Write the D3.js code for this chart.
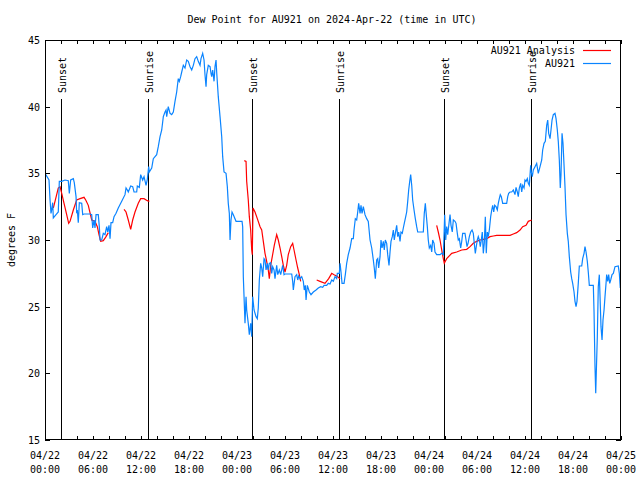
<!DOCTYPE html>
<html><head><meta charset="utf-8">
<script src="https://cdn.jsdelivr.net/npm/d3@7"></script>
<style>
body{margin:0;background:#fff;}
text{font-family:"DejaVu Sans Mono","Liberation Mono",monospace;font-size:10px;fill:#000;}
</style></head>
<body><svg id="c" width="640" height="480"></svg>
<script>
const title = "Dew Point for AU921 on 2024-Apr-22 (time in UTC)";
const yLabel = "degrees F";
const startTime = "2024-04-22T00:00:00Z";
const endTime = "2024-04-25T00:00:00Z";
const yTicks = [15, 20, 25, 30, 35, 40, 45];
const seriesNames = ["AU921 Analysis", "AU921"];
// sun events: hours after start
const sunEvents = [["Sunset",1.96],["Sunrise",12.9],["Sunset",25.9],["Sunrise",36.8],["Sunset",49.9],["Sunrise",60.8]];
// observed dew point [hours after start, deg F]
const obsHours = [0,0.5,0.63,0.75,0.83,0.96,1.04,1.38,1.66,1.79,2.09,2.5,2.91,3.04,3.21,3.54,3.66,3.88,3.96,4.04,4.16,4.29,4.59,4.71,4.88,5.63,5.84,5.96,6.13,6.25,6.38,6.66,6.79,6.88,7.09,7.29,7.5,7.71,7.84,8.0,8.13,8.25,8.46,8.63,8.88,9.16,9.59,10.0,10.13,10.29,10.41,10.71,10.96,11.13,11.46,11.54,11.79,11.96,12.21,12.38,12.63,12.79,12.96,13.04,13.34,13.54,13.96,14.16,14.38,14.59,14.79,15.0,15.13,15.21,15.41,15.63,15.84,16.04,16.25,16.46,16.66,16.79,16.96,17.09,17.29,17.5,17.71,17.91,18.13,18.34,18.54,18.75,18.96,19.16,19.38,19.5,19.71,19.88,20.0,20.13,20.21,20.41,20.63,20.75,20.84,20.96,21.13,21.25,21.38,21.46,21.66,21.88,22.09,22.21,22.38,22.63,22.79,22.91,23.04,23.13,23.25,23.38,23.54,23.88,24.63,24.71,24.79,25.0,25.13,25.21,25.41,25.54,25.71,25.84,25.96,26.13,26.38,26.54,26.66,26.79,26.96,27.09,27.21,27.38,27.5,27.63,27.79,27.91,28.04,28.21,28.34,28.46,28.63,28.75,28.96,29.09,29.29,29.46,29.71,29.88,30.0,30.84,30.96,31.04,31.25,31.46,31.59,31.71,31.88,32.09,32.29,32.41,32.54,32.63,32.79,33.04,33.25,33.54,33.88,34.16,34.46,34.71,34.88,35.21,35.41,35.63,35.84,36.04,36.25,36.46,36.54,36.79,36.88,37.0,37.13,37.38,37.54,37.71,37.91,38.13,38.34,38.54,38.63,38.79,38.96,39.09,39.21,39.38,39.5,39.63,39.79,40.0,40.21,40.41,40.63,40.84,41.04,41.16,41.29,41.46,41.59,41.71,41.88,42.0,42.13,42.29,42.41,42.54,42.71,42.84,43.0,43.13,43.25,43.41,43.54,43.66,43.79,43.96,44.09,44.21,44.38,44.5,44.66,44.79,44.91,45.09,45.21,45.34,45.46,45.59,45.71,45.84,45.96,46.13,46.29,46.46,46.59,47.29,47.41,47.54,47.63,47.79,47.91,48.04,48.21,48.34,48.46,48.63,48.75,48.96,49.16,49.38,49.59,49.79,49.88,49.96,50.09,50.21,50.34,50.5,50.63,50.75,50.91,51.04,51.25,51.38,51.54,51.66,51.79,51.96,52.09,52.21,52.5,52.63,52.75,52.88,53.04,53.21,53.38,53.54,53.66,53.79,53.91,54.04,54.16,54.29,54.41,54.54,54.66,54.79,54.91,55.04,55.16,55.29,55.41,55.54,55.71,55.84,55.96,56.09,56.21,56.38,56.54,56.66,56.79,56.91,57.04,57.21,57.71,57.84,57.96,58.13,58.34,58.54,58.75,58.88,59.04,59.16,59.29,59.46,59.59,59.71,59.88,60.0,60.13,60.29,60.41,60.54,60.71,60.79,60.91,61.04,61.25,61.46,61.66,61.88,62.09,62.21,62.38,62.54,62.71,62.84,62.96,63.13,63.25,63.38,63.54,63.75,63.88,64.04,64.16,64.29,64.41,64.5,64.63,64.75,64.88,65.0,65.13,65.29,65.41,65.54,65.71,65.84,65.96,66.13,66.25,66.38,66.5,66.66,66.79,67.09,67.21,67.38,67.5,67.63,67.79,67.91,68.04,68.54,68.63,68.75,68.84,68.91,69.04,69.16,69.29,69.38,69.5,69.63,69.75,69.88,70.0,70.13,70.21,70.34,70.46,70.59,70.71,70.88,71.04,71.25,71.66,71.79,71.91];
const obsValues = [35.0,34.5,33.0,32.0,32.25,32.8,31.65,31.9,32.1,34.4,34.4,34.5,34.45,33.5,34.5,34.6,34.3,33.25,32.0,32.25,31.3,32.8,32.75,31.9,31.95,31.95,31.9,30.9,31.5,30.9,31.9,31.9,31.0,30.0,30.0,30.5,30.4,31.0,30.6,31.1,30.1,31.3,31.3,31.75,32.0,32.4,32.9,33.4,33.9,33.75,33.6,34.05,34.0,33.6,33.6,34.05,33.95,34.9,34.5,34.75,34.1,34.55,35.5,35.1,35.4,36.1,36.4,37.0,37.75,38.25,39.25,39.6,39.75,39.25,40.0,39.5,39.4,39.6,40.4,41.1,42.1,41.9,42.25,42.6,43.1,42.9,43.5,43.4,43.0,42.75,43.1,43.6,43.75,43.4,43.1,43.6,44.0,43.5,42.4,41.5,42.4,43.1,43.0,42.5,42.25,42.75,41.9,43.0,43.5,42.6,40.75,39.25,37.75,36.25,35.1,35.0,34.0,32.75,32.0,30.0,31.5,32.1,31.9,31.4,31.4,31.0,27.25,23.75,25.75,24.75,23.75,22.9,23.75,22.75,25.75,24.75,24.25,24.1,24.9,27.0,28.25,27.9,27.25,28.6,28.5,27.75,28.25,27.75,28.25,28.3,27.5,28.0,27.75,27.1,28.1,27.4,27.75,27.4,28.1,27.4,27.45,27.45,26.9,26.25,27.25,27.4,27.0,27.3,27.1,27.25,26.9,26.25,26.6,25.5,26.6,26.1,25.9,26.1,26.25,26.4,26.5,26.45,26.6,26.6,26.75,26.7,27.0,26.9,27.25,27.1,27.5,27.5,28.25,27.6,26.75,26.75,27.4,28.25,28.9,29.4,30.1,30.1,30.75,31.6,31.5,32.1,32.75,32.0,32.6,32.0,32.5,31.9,31.6,31.4,30.0,29.4,28.5,27.9,27.1,28.5,28.6,27.9,28.75,30.0,29.4,29.9,29.25,30.0,29.75,28.9,28.1,29.1,29.9,30.25,30.75,30.0,30.5,31.1,30.25,30.6,29.9,30.6,30.5,30.9,31.25,31.75,32.1,32.9,33.75,34.4,34.9,34.1,33.0,32.25,31.6,31.0,30.6,30.6,32.0,32.75,32.1,31.0,30.0,29.4,29.6,29.1,30.0,29.75,29.1,28.9,28.9,28.9,29.0,28.9,30.4,31.9,30.0,31.0,30.4,31.25,31.9,31.1,30.6,31.5,31.4,31.25,30.5,30.0,30.1,29.4,29.9,30.5,30.5,30.0,29.5,29.75,30.25,30.6,30.75,30.5,29.75,29.0,29.5,30.0,30.25,30.0,29.5,30.0,30.6,29.0,29.75,31.75,29.0,30.6,30.25,30.75,31.75,32.25,32.6,32.1,32.6,32.5,32.25,32.75,33.1,33.4,33.25,32.75,32.75,33.25,33.5,33.6,33.6,33.75,33.4,33.95,33.6,33.25,33.9,34.25,33.6,34.1,33.9,34.5,34.4,34.6,34.25,34.1,35.6,35.1,34.75,35.25,35.5,35.75,35.0,35.5,36.0,36.75,37.25,37.4,38.6,39.0,38.0,37.6,38.25,39.0,39.4,39.5,39.1,38.25,37.4,36.0,33.9,34.9,38.0,37.25,35.6,34.0,31.9,30.5,29.9,28.75,27.6,27.1,26.75,26.1,25.4,25.0,25.4,26.75,28.05,28.05,28.6,29.0,29.5,29.1,28.4,27.6,26.6,26.6,24.6,20.5,18.5,20.0,22.75,26.5,27.4,25.75,23.5,22.5,24.0,24.75,25.75,26.75,27.4,26.9,27.4,26.75,27.0,27.4,27.5,28.0,28.05,27.5,26.4];
// analysis dew point, null marks gaps
const anaHours = [1.04,1.25,1.66,1.88,2.09,2.38,2.71,2.96,3.13,3.54,3.96,4.38,4.88,5.09,5.41,5.84,6.25,6.54,6.75,6.96,7.29,7.63,7.91,8.5,
 9.88,10.13,10.41,10.71,10.96,11.25,11.66,11.96,12.38,12.79,13.04,13.5,
 24.91,25.13,25.21,25.41,25.54,25.71,25.84,25.91,26.0,26.25,26.54,26.88,27.09,27.29,27.5,27.71,27.91,28.04,28.21,28.41,28.66,28.96,29.16,29.38,29.59,29.79,30.0,30.21,30.41,30.71,30.96,31.13,31.38,31.59,31.79,31.96,32.5,
 33.96,34.38,35.0,35.46,35.84,36.13,36.46,36.88,37.5,
 48.96,49.16,49.38,49.59,49.79,49.91,50.21,50.84,51.46,52.09,52.71,53.13,53.54,53.96,54.38,54.79,55.21,55.63,56.04,56.46,57.71,58.13,58.54,58.96,59.38,59.71,60.13,60.41,60.84];
const anaValues = [32.4,32.9,33.9,34.0,33.5,32.75,31.9,31.25,31.4,32.25,33.0,33.1,33.2,33.0,32.6,31.5,31.4,31.0,30.4,29.9,29.95,30.25,30.55,null,
 32.3,32.1,31.5,30.8,31.5,32.1,32.75,33.1,33.1,32.95,32.9,null,
 35.95,35.9,34.4,33.0,31.75,30.75,29.25,28.9,32.4,32.1,31.6,31.0,30.75,29.9,29.0,28.4,27.75,27.1,28.1,28.75,29.6,30.4,30.0,29.4,28.75,28.1,27.6,28.1,28.9,29.5,29.75,29.25,28.5,27.9,27.4,26.9,null,
 27.0,26.9,26.75,27.1,27.5,27.4,27.3,27.1,null,
 31.1,30.6,30.0,29.25,28.6,28.25,28.6,29.0,29.1,29.25,29.3,29.5,29.75,29.9,30.0,30.05,30.1,30.25,30.3,30.35,30.35,30.35,30.45,30.55,30.75,31.0,31.1,31.4,31.5];

const colors = {analysis:"#ff0000", obs:"#0a84ff"};
const m = {l:45, r:621, t:40, b:440};
const t0 = new Date(startTime).getTime();
const toDate = h => new Date(t0 + h*3600e3);
const svg = d3.select("#c");
const x = d3.scaleUtc().domain([new Date(startTime), new Date(endTime)]).range([m.l, m.r]);
const y = d3.scaleLinear().domain([15,45]).range([m.b, m.t]);

// title
svg.append("text").attr("x",332).attr("y",23).attr("text-anchor","middle").text(title);
svg.append("text").attr("transform","translate(15,240) rotate(-90)").attr("text-anchor","middle").text(yLabel);

// axes
const fmtD = d3.utcFormat("%m/%d"), fmtT = d3.utcFormat("%H:%M");
const bottom = svg.append("g").attr("transform",`translate(0,${m.b})`)
 .call(d3.axisBottom(x).ticks(d3.utcHour.every(6)).tickSize(0).tickFormat(""));
bottom.select(".domain").remove();
const labTicks = x.ticks(d3.utcHour.every(6));
const lab = svg.append("g");
labTicks.forEach(d=>{
  const t = lab.append("text").attr("x",x(d)).attr("text-anchor","middle");
  t.append("tspan").attr("x",x(d)).attr("y",459).text(fmtD(d));
  t.append("tspan").attr("x",x(d)).attr("y",473).text(fmtT(d));
});
const minor = x.ticks(d3.utcHour.every(2));
const tk = svg.append("g").attr("stroke","#000").attr("stroke-width",1).attr("shape-rendering","crispEdges");
minor.forEach(d=>{
  const px = Math.round(x(d))+0.5;
  tk.append("line").attr("x1",px).attr("x2",px).attr("y1",m.b).attr("y2",m.b-4);
  tk.append("line").attr("x1",px).attr("x2",px).attr("y1",m.t).attr("y2",m.t+4);
});
yTicks.forEach(v=>{
  const py = Math.round(y(v))+0.5;
  tk.append("line").attr("x1",m.l).attr("x2",m.l+5).attr("y1",py).attr("y2",py);
  tk.append("line").attr("x1",m.r).attr("x2",m.r-5).attr("y1",py).attr("y2",py);
  svg.append("text").attr("x",40).attr("y",y(v)+4).attr("text-anchor","end").text(v);
});

// sun events
sunEvents.forEach(([name,h])=>{
  const px = Math.round(x(toDate(h)))+0.5;
  svg.append("line").attr("x1",px).attr("x2",px).attr("y1",99).attr("y2",m.b)
    .attr("stroke","#000").attr("shape-rendering","crispEdges");
  svg.append("text").attr("transform",`translate(${px+4},93) rotate(-90)`).attr("text-anchor","start")
    .text(name);
});

// series
const clip = svg.append("clipPath").attr("id","clp").append("rect")
  .attr("x",m.l).attr("y",m.t).attr("width",m.r-m.l).attr("height",m.b-m.t);
const line = d3.line().defined(d=>d[1]!==null).x(d=>x(toDate(d[0]))).y(d=>y(d[1]));
const ana = anaHours.map((h,i)=>[h,anaValues[i]]);
const obs = obsHours.map((h,i)=>[h,obsValues[i]]);
svg.append("path").attr("d",line(ana)).attr("fill","none").attr("stroke",colors.analysis).attr("stroke-width",1.2).attr("clip-path","url(#clp)");
svg.append("path").attr("d",line(obs)).attr("fill","none").attr("stroke",colors.obs).attr("stroke-width",1.2).attr("clip-path","url(#clp)");

// frame
svg.append("rect").attr("x",m.l+0.5).attr("y",m.t+0.5).attr("width",m.r-m.l-1).attr("height",m.b-m.t-1)
  .attr("fill","none").attr("stroke","#000").attr("shape-rendering","crispEdges");

// legend
[[seriesNames[0],colors.analysis,50],[seriesNames[1],colors.obs,63]].forEach(([n,c,ly])=>{
  svg.append("text").attr("x",575).attr("y",ly+4).attr("text-anchor","end").text(n);
  svg.append("line").attr("x1",583).attr("x2",611).attr("y1",ly+0.5).attr("y2",ly+0.5).attr("stroke",c).attr("stroke-width",1.2);
});
</script></body></html>
